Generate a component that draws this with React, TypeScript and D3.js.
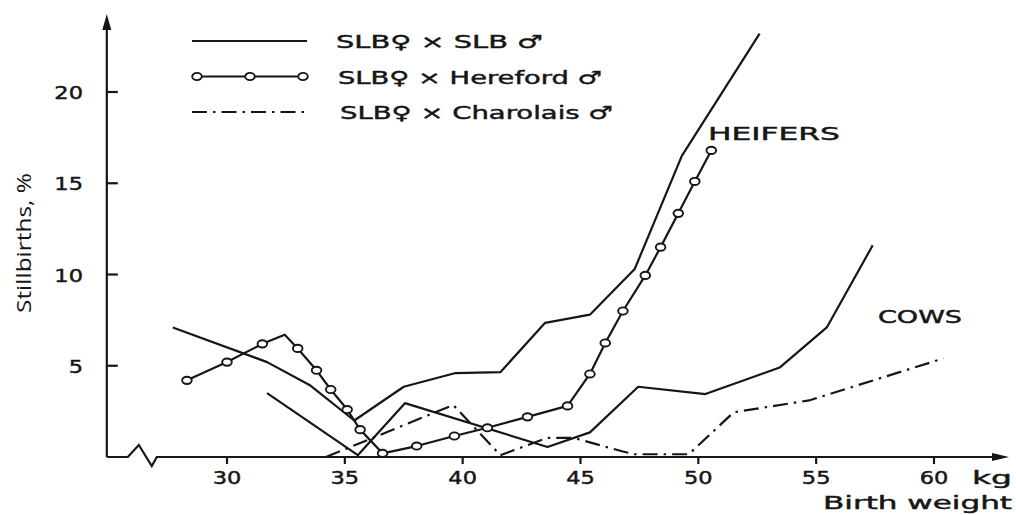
import React, { useEffect, useRef } from "react";
import { select, scaleLinear, line } from "d3";

const width = 1016;
const height = 515;

// birth weight, kg  /  stillbirths, %
const heifersSlbKg = [27.7, 31.7, 33.5, 35.4, 37.5, 39.7, 41.6, 43.5, 45.4, 47.3, 49.3, 52.6];
const heifersSlbPct = [7.1, 5.2, 3.95, 2.0, 3.85, 4.6, 4.65, 7.35, 7.8, 10.3, 16.5, 23.2];

const cowsSlbKg = [31.7, 35.55, 37.55, 43.6, 45.4, 47.45, 50.3, 53.45, 55.45, 57.4];
const cowsSlbPct = [3.5, 0.1, 2.95, 0.55, 1.35, 3.85, 3.45, 4.9, 7.1, 11.6];

const herefordKg = [28.3, 30.0, 31.5, 32.45, 33.0, 33.8, 34.4, 35.1, 35.65, 36.6, 38.05, 39.65,
  41.05, 42.75, 44.45, 45.4, 46.05, 46.8, 47.75, 48.4, 49.15, 49.85, 50.55];
const herefordPct = [4.2, 5.2, 6.2, 6.7, 5.95, 4.75, 3.7, 2.6, 1.5, 0.2, 0.6, 1.15,
  1.6, 2.2, 2.8, 4.55, 6.25, 8.0, 9.95, 11.5, 13.35, 15.1, 16.8];
// the peak at 32.5 kg is a corner of the line, no circle drawn there
const herefordMarked = herefordKg.map((_, i) => i !== 3);

const heifersCharKg = [34.2, 39.6, 41.6];
const heifersCharPct = [0, 2.85, 0.1];

const cowsCharKg = [41.6, 43.6, 44.7, 46.8, 47.3, 49.6, 51.5, 54.7, 60.4];
const cowsCharPct = [0.1, 1.05, 1.05, 0.3, 0.15, 0.15, 2.45, 3.1, 5.4];

const xTicks = [30, 35, 40, 45, 50, 55, 60];
const yTicks = [5, 10, 15, 20];
const legendLabels = ["SLB♀ × SLB ♂", "SLB♀ × Hereford ♂", "SLB♀ × Charolais ♂"];
const legendWidths = [207, 264, 273];

const ink = "#161616";
const dashDot = "15 6 2.5 6";
const font = "'DejaVu Sans', sans-serif";

const zip = (xs: number[], ys: number[]) => xs.map((x, i) => [x, ys[i]] as [number, number]);

function App() {
  const svgRef = useRef<SVGSVGElement>(null);

  useEffect(() => {
    const svg = select(svgRef.current);
    svg.selectAll("*").remove();

    const xScale = scaleLinear().domain([30, 60]).range([227, 934]);
    const yScale = scaleLinear().domain([0, 20]).range([457, 92]);

    const x0 = xScale(24.9);
    const y0 = yScale(0);

    // axes
    const axes = svg.append("g").attr("stroke", ink).attr("fill", "none").attr("stroke-width", 2.2);
    axes.append("path").attr("d", `M${x0},${y0} V28`);
    axes.append("path").attr("stroke", "none").attr("fill", ink)
      .attr("d", `M${x0},14 L${x0 - 4.5},30 L${x0 + 4.5},30 Z`);
    axes.append("path")
      .attr("d", `M${x0},${y0} H${x0 + 21} L${x0 + 32},${y0 - 12} L${x0 + 45},${y0 + 9} L${x0 + 50},${y0} H994`);
    axes.append("path").attr("stroke", "none").attr("fill", ink)
      .attr("d", `M1009,${y0} L992,${y0 - 4} L992,${y0 + 4} Z`);

    axes.selectAll(".xt").data(xTicks).join("line")
      .attr("x1", d => xScale(d)).attr("x2", d => xScale(d))
      .attr("y1", y0).attr("y2", y0 + 7);
    axes.selectAll(".yt").data(yTicks).join("line")
      .attr("x1", x0).attr("x2", x0 + 11)
      .attr("y1", d => yScale(d)).attr("y2", d => yScale(d));

    const labels = svg.append("g").attr("fill", ink).attr("font-family", font).attr("font-size", 18)
      .attr("stroke", ink).attr("stroke-width", 0.45);
    labels.selectAll(".xl").data(xTicks).join("text")
      .attr("text-anchor", "middle")
      .attr("transform", d => `translate(${xScale(d)},484) scale(1.25,1)`)
      .text(d => d);
    labels.selectAll(".yl").data(yTicks).join("text")
      .attr("text-anchor", "end")
      .attr("transform", d => `translate(83,${yScale(d) + 7}) scale(1.25,1)`)
      .text(d => d);

    labels.append("text").attr("x", 972).attr("y", 484)
      .attr("textLength", 40).attr("lengthAdjust", "spacingAndGlyphs").text("kg");
    labels.append("text").attr("x", 823).attr("y", 509)
      .attr("textLength", 189).attr("lengthAdjust", "spacingAndGlyphs").text("Birth weight");
    labels.append("text").attr("x", 708).attr("y", 140)
      .attr("textLength", 132).attr("lengthAdjust", "spacingAndGlyphs").text("HEIFERS");
    labels.append("text").attr("x", 878).attr("y", 323)
      .attr("textLength", 84).attr("lengthAdjust", "spacingAndGlyphs").text("COWS");

    svg.append("text")
      .attr("transform", "translate(31,313) rotate(-90)")
      .attr("font-family", "'Open Sans', sans-serif").attr("font-size", 20).attr("fill", ink)
      .attr("textLength", 140).attr("lengthAdjust", "spacingAndGlyphs")
      .text("Stillbirths, %");

    // series
    const lineGen = line<[number, number]>().x(d => xScale(d[0])).y(d => yScale(d[1]));
    const series = [
      { pts: zip(heifersSlbKg, heifersSlbPct), dash: null },
      { pts: zip(cowsSlbKg, cowsSlbPct), dash: null },
      { pts: zip(herefordKg, herefordPct), dash: null },
      { pts: zip(heifersCharKg, heifersCharPct), dash: dashDot },
      { pts: zip(cowsCharKg, cowsCharPct), dash: dashDot },
    ];
    svg.append("g").selectAll("path").data(series).join("path")
      .attr("d", d => lineGen(d.pts))
      .attr("fill", "none").attr("stroke", ink).attr("stroke-width", 2.2)
      .attr("stroke-linejoin", "round")
      .attr("stroke-dasharray", d => d.dash);

    svg.append("g").selectAll("ellipse")
      .data(zip(herefordKg, herefordPct).filter((_, i) => herefordMarked[i]))
      .join("ellipse")
      .attr("cx", d => xScale(d[0])).attr("cy", d => yScale(d[1]))
      .attr("rx", 4.8).attr("ry", 3.6)
      .attr("fill", "white").attr("stroke", ink).attr("stroke-width", 1.9);

    // legend
    const legend = svg.append("g");
    const rows = legend.selectAll("g").data(legendLabels).join("g")
      .attr("transform", (_, i) => `translate(0,${41 + i * 35.5})`);
    rows.append("line").attr("x1", 192).attr("x2", 307)
      .attr("stroke", ink).attr("stroke-width", 2.2)
      .attr("stroke-dasharray", (_, i) => (i === 2 ? dashDot : null));
    rows.filter((_, i) => i === 1).selectAll("ellipse").data([197, 250, 303]).join("ellipse")
      .attr("cx", d => d).attr("cy", 0).attr("rx", 4.8).attr("ry", 3.6)
      .attr("fill", "white").attr("stroke", ink).attr("stroke-width", 1.9);
    rows.append("text")
      .attr("x", (_, i) => 336 + i * 2).attr("y", 7)
      .attr("font-family", font).attr("font-size", 18).attr("fill", ink)
      .attr("stroke", ink).attr("stroke-width", 0.45)
      .attr("textLength", (_, i) => legendWidths[i]).attr("lengthAdjust", "spacingAndGlyphs")
      .text(d => d);
  }, []);

  return (
    <svg ref={svgRef} width={width} height={height}
      style={{ position: "absolute", left: 0, top: 0, background: "white" }} />
  );
}

export default App;
